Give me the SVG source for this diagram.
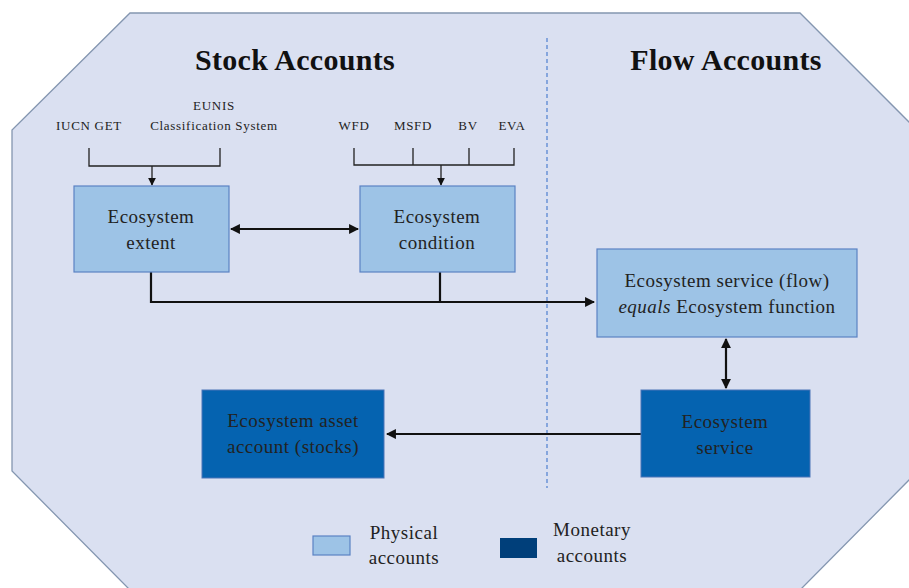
<svg xmlns="http://www.w3.org/2000/svg" width="909" height="588" viewBox="0 0 909 588">
<defs>
<style>
.t{font-family:"Liberation Serif",serif;fill:#222;text-anchor:middle}
.s{font-size:13px;letter-spacing:0.7px}
.b{font-size:19px;letter-spacing:0.5px}
.h{font-size:30px;font-weight:bold;fill:#111;letter-spacing:0.3px}
.lt{fill:#9DC3E6;stroke:#5B82C4;stroke-width:1.2}
.dk{fill:#0563B0;stroke:#4A74B8;stroke-width:1}
.ln{fill:none;stroke:#222;stroke-width:1.3}
.ar{fill:none;stroke:#111;stroke-width:2.2}
</style>
<marker id="ah" viewBox="0 0 10 10" refX="9" refY="5" markerWidth="4.5" markerHeight="4.5" orient="auto-start-reverse"><path d="M0,0L10,5L0,10z" fill="#111"/></marker>
<marker id="as" viewBox="0 0 10 10" refX="9" refY="5" markerWidth="6" markerHeight="6" orient="auto"><path d="M0,0L10,5L0,10z" fill="#111"/></marker>
</defs>
<polygon points="130,13 800,13 912,125 912,477 800,590 130,590 12,471 12,130" fill="#DAE0F1" stroke="#8496B0" stroke-width="1.3"/>
<line x1="547" y1="38" x2="547" y2="488" stroke="#4F7FD0" stroke-width="1.2" stroke-dasharray="4,3"/>
<text class="t h" x="295" y="70">Stock Accounts</text>
<text class="t h" x="726" y="70">Flow Accounts</text>
<g id="labels">
<text class="t s" x="89" y="130">IUCN GET</text>
<text class="t s" x="214" y="110">EUNIS</text>
<text class="t s" x="214" y="130">Classification  System</text>
<text class="t s" x="354" y="130">WFD</text>
<text class="t s" x="413" y="130">MSFD</text>
<text class="t s" x="468" y="130">BV</text>
<text class="t s" x="512" y="130">EVA</text>
</g>
<g id="connectors">
<path class="ln" d="M89,148V166H220V148"/>
<line class="ln" x1="152" y1="166" x2="152" y2="185" marker-end="url(#as)"/>
<path class="ln" d="M354,148V165H514V148M413,148V165M469,148V165"/>
<line class="ln" x1="441" y1="165" x2="441" y2="185" marker-end="url(#as)"/>
<line class="ar" x1="231" y1="229" x2="358" y2="229" marker-start="url(#ah)" marker-end="url(#ah)"/>
<path class="ar" d="M151,272V302H594" marker-end="url(#ah)"/>
<path class="ar" d="M440,272V302"/>
<line class="ar" x1="726" y1="339" x2="726" y2="388" marker-start="url(#ah)" marker-end="url(#ah)"/>
<line class="ar" x1="641" y1="434" x2="387" y2="434" marker-end="url(#ah)"/>
</g>
<g id="extent">
<rect class="lt" x="74" y="186" width="155" height="86"/>
<text class="t b" x="151" y="223">Ecosystem</text>
<text class="t b" x="151" y="249">extent</text>
</g>
<g id="condition">
<rect class="lt" x="360" y="186" width="155" height="86"/>
<text class="t b" x="437" y="223">Ecosystem</text>
<text class="t b" x="437" y="249">condition</text>
</g>
<g id="flow">
<rect class="lt" x="597" y="249" width="260" height="88"/>
<text class="t b" x="727" y="287">Ecosystem service (flow)</text>
<text class="t b" x="727" y="313"><tspan font-style="italic">equals</tspan> Ecosystem function</text>
</g>
<g id="service">
<rect class="dk" x="641" y="390" width="169" height="87"/>
<text class="t b" x="725" y="428">Ecosystem</text>
<text class="t b" x="725" y="454">service</text>
</g>
<g id="asset">
<rect class="dk" x="202" y="390" width="182" height="88"/>
<text class="t b" x="293" y="427">Ecosystem asset</text>
<text class="t b" x="293" y="453">account (stocks)</text>
</g>
<g id="legend">
<rect class="lt" x="313" y="536" width="37" height="19"/>
<text class="t b" x="404" y="539">Physical</text>
<text class="t b" x="404" y="564">accounts</text>
<rect x="500" y="538" width="37" height="20" fill="#003F7A"/>
<text class="t b" x="592" y="536">Monetary</text>
<text class="t b" x="592" y="562">accounts</text>
</g>
</svg>
